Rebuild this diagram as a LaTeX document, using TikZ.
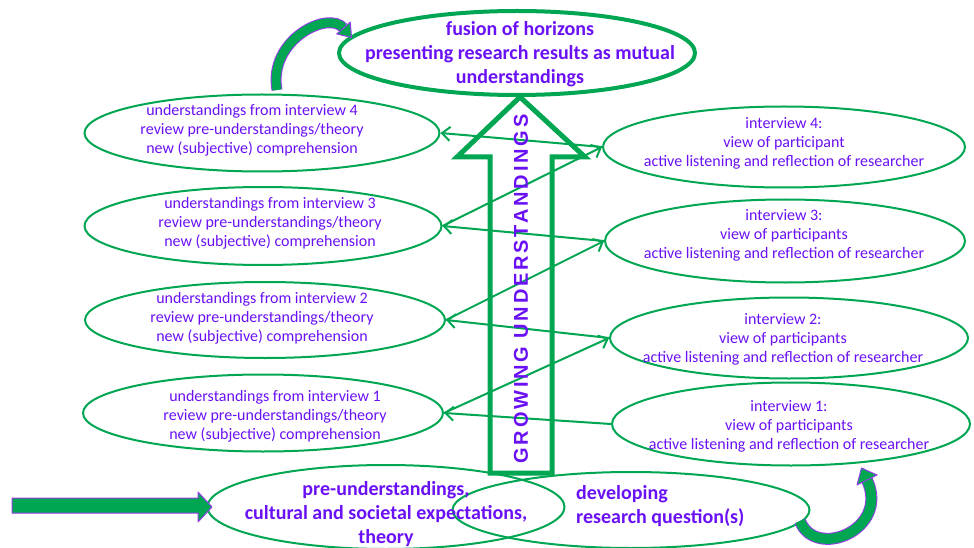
\documentclass[tikz,border=0pt]{standalone}
\usepackage{fontspec}
\setmainfont{Carlito}
\newfontfamily\arialb{Liberation Sans}[LetterSpace=14]
\usetikzlibrary{shapes.geometric,arrows.meta}
\definecolor{gr}{RGB}{0,166,81}
\definecolor{pu}{RGB}{106,16,245}
\definecolor{po}{RGB}{150,60,235}
\begin{document}
\begin{tikzpicture}[x=1pt,y=-1pt,
  ell/.style={ellipse, draw=gr, line width=2, inner sep=0},
  small/.style={text=pu, align=center, inner sep=0, font=\fontsize{16}{19}\selectfont},
  big/.style={text=pu, align=center, inner sep=0, font=\bfseries\fontsize{20}{24}\selectfont},
  conn/.style={draw=gr, line width=2, -{Straight Barb[length=8,width=14]}},
  blockarrow/.style={draw=po, fill=gr, line width=1, line join=round}
]
\useasboundingbox (0,0) rectangle (974,548);

% ellipses
\node[ell, line width=4, minimum width=356, minimum height=84] (T) at (517,53) {};
\node[ell, minimum width=355, minimum height=77] (L4) at (262,133) {};
\node[ell, minimum width=357, minimum height=78] (L3) at (263,226) {};
\node[ell, minimum width=360, minimum height=76] (L2) at (265,320) {};
\node[ell, minimum width=360, minimum height=77] (L1) at (263,413) {};
\node[ell, minimum width=362, minimum height=81] (R4) at (784,147) {};
\node[ell, minimum width=360, minimum height=83] (R3) at (785,241) {};
\node[ell, minimum width=358, minimum height=81] (R2) at (789,338) {};
\node[ell, minimum width=358, minimum height=83] (R1) at (791,424) {};
\node[ell, minimum width=357, minimum height=84] (BL) at (386,507) {};
\node[ell, minimum width=357, minimum height=76] (BR) at (631,510) {};

% big hollow arrow
\draw[gr, line width=5, line join=miter] (490,473) -- (490,157) -- (457,157) -- (520,97) -- (585,157) -- (552,157) -- (552,473) -- cycle;

% connectors
\draw[conn] (R1.west) -- (L1.east);
\draw[conn] (L1.east) -- (R2.west);
\draw[conn] (R2.west) -- (L2.east);
\draw[conn] (L2.east) -- (R3.west);
\draw[conn] (R3.west) -- (L3.east);
\draw[conn] (L3.east) -- (R4.west);
\draw[conn] (R4.west) -- (L4.east);

% texts
\node[big] (Tt) at (520,54) {fusion of horizons\\presenting research results as mutual\\understandings};
\node[small] (L4t) at (252,130) {understandings from interview 4\\review pre-understandings/theory\\new (subjective) comprehension};
\node[small] (L3t) at (270,223) {understandings from interview 3\\review pre-understandings/theory\\new (subjective) comprehension};
\node[small] (L2t) at (262,318) {understandings from interview 2\\review pre-understandings/theory\\new (subjective) comprehension};
\node[small] (L1t) at (275,416) {understandings from interview 1\\review pre-understandings/theory\\new (subjective) comprehension};
\node[small] (R4t) at (784,143) {interview 4:\\view of participant\\active listening and reflection of researcher};
\node[small] (R3t) at (784,235) {interview 3:\\view of participants\\active listening and reflection of researcher};
\node[small] (R2t) at (783,339) {interview 2:\\view of participants\\active listening and reflection of researcher};
\node[small] (R1t) at (789,426) {interview 1:\\view of participants\\active listening and reflection of researcher};
\node[big] (BLt) at (386,514) {pre-understandings,\\cultural and societal expectations,\\theory};
\node[big, align=left, anchor=west] (BRt) at (576,506) {developing\\research question(s)};
\node[rotate=90, text=pu, inner sep=0, font=\arialb\bfseries\fontsize{20}{24}\selectfont] (G) at (521,289) {GROWING UNDERSTANDINGS};

% left straight block arrow
\draw[blockarrow] (12,498) -- (198,498) -- (198,492) -- (212,507) -- (198,522) -- (198,513) -- (12,513) -- cycle;

% top-left curved arrow
\draw[po, line width=11] (277,90) .. controls (268,40) and (328,10) .. (343.5,28);
\draw[gr, line width=9] (277,90) .. controls (268,40) and (328,10) .. (343.5,28);
\draw[blockarrow] (350.3,22.2) -- (351.5,37.5) -- (336.7,33.9) -- cycle;

% bottom-right curved arrow
\draw[po, line width=12] (800,521) .. controls (815,560) and (890,530) .. (867,480);
\draw[gr, line width=10] (800,521) .. controls (815,560) and (890,530) .. (867,480);
\draw[blockarrow] (857,485) -- (861.5,468) -- (877,475) -- cycle;
\end{tikzpicture}
\end{document}
